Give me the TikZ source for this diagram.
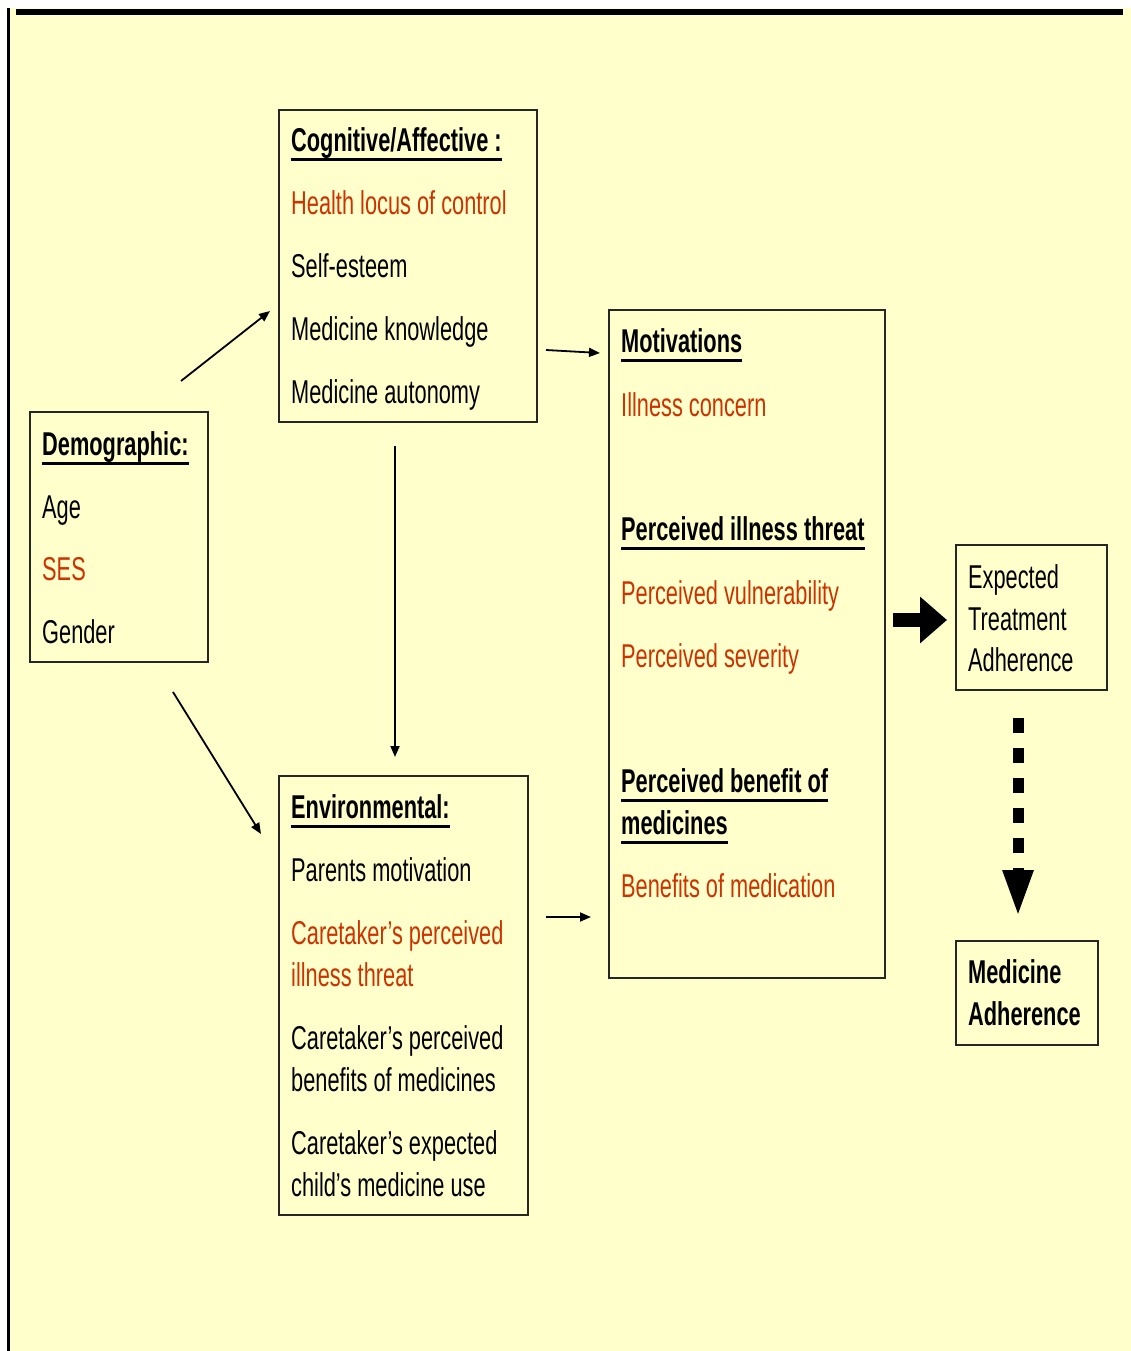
\documentclass[tikz,border=0pt]{standalone}
\usepackage{fontspec}
\setmainfont{Liberation Sans}[FakeStretch=0.66]
\usetikzlibrary{arrows.meta}
\definecolor{bgyel}{RGB}{255,255,204}
\definecolor{redt}{RGB}{204,51,0}
\newcommand\myul[1]{\setbox0=\hbox{#1}\rlap{\rule[-9.5pt]{\wd0}{3.3pt}}\box0}
\begin{document}
\begin{tikzpicture}[x=1pt,y=-1pt,
  box/.style={draw=black!85, line width=1.4pt, anchor=north west, inner sep=0pt, outer sep=0pt},
  txt/.style={anchor=base west, inner sep=0pt, font=\fontsize{33}{38}\selectfont},
  rtxt/.style={txt, text=redt},
  btxt/.style={txt, font=\fontsize{33}{38}\selectfont\bfseries},
  arr/.style={line width=1.8pt, -{Triangle[length=11pt,width=9pt]}},
]
\useasboundingbox (0,0) rectangle (1131,1351);
% background and frame
\fill[bgyel] (8,8) rectangle (1131,1351);
\fill[black] (7,8) rectangle (10.3,1351);
\fill[black] (16,8.6) rectangle (1123,14.6);

% boxes
\node[box, minimum width=178pt, minimum height=250pt] (demo) at (30,412) {};
\node[box, minimum width=258pt, minimum height=312pt] (cog) at (279,110) {};
\node[box, minimum width=249pt, minimum height=439pt] (env) at (279,776) {};
\node[box, minimum width=276pt, minimum height=668pt] (mot) at (609,310) {};
\node[box, minimum width=151pt, minimum height=145pt] (eta) at (956,545) {};
\node[box, minimum width=142pt, minimum height=104pt] (ma) at (956,941) {};

% demographic
\node[btxt] (d1) at (42,455.5) {\myul{Demographic:}};
\node[txt] (d2) at (42,518.5) {Age};
\node[rtxt] (d3) at (42,580.5) {SES};
\node[txt] (d4) at (42,643.5) {Gender};

% cognitive
\node[btxt] (c1) at (291,151.5) {\myul{Cognitive/Affective :}};
\node[rtxt] (c2) at (291,214.5) {Health locus of control};
\node[txt] (c3) at (291,277.5) {Self-esteem};
\node[txt] (c4) at (291,340.5) {Medicine knowledge};
\node[txt] (c5) at (291,403.5) {Medicine autonomy};

% environmental
\node[btxt] (e1) at (291,818.5) {\myul{Environmental:}};
\node[txt] (e2) at (291,881.5) {Parents motivation};
\node[rtxt] (e3a) at (291,944.5) {Caretaker’s perceived};
\node[rtxt] (e3b) at (291,986.5) {illness threat};
\node[txt] (e4a) at (291,1049.5) {Caretaker’s perceived};
\node[txt] (e4b) at (291,1091.5) {benefits of medicines};
\node[txt] (e5a) at (291,1154.5) {Caretaker’s expected};
\node[txt] (e5b) at (291,1196.5) {child’s medicine use};

% motivations
\node[btxt] (m1) at (621,352.5) {\myul{Motivations}};
\node[rtxt] (m2) at (621,416.5) {Illness concern};
\node[btxt] (m3) at (621,540.5) {\myul{Perceived illness threat}};
\node[rtxt] (m4) at (621,604.5) {Perceived vulnerability};
\node[rtxt] (m5) at (621,667.5) {Perceived severity};
\node[btxt] (m6a) at (621,792.5) {\myul{Perceived benefit of}};
\node[btxt] (m6b) at (621,834.5) {\myul{medicines}};
\node[rtxt] (m7) at (621,897.5) {Benefits of medication};

% expected treatment adherence
\node[txt] (t1) at (968,588.5) {Expected};
\node[txt] (t2) at (968,630.5) {Treatment};
\node[txt] (t3) at (968,671.5) {Adherence};

% medicine adherence
\node[btxt] (a1) at (968,983.5) {Medicine};
\node[btxt] (a2) at (968,1025.5) {Adherence};

% connector end points
\coordinate (dc1) at (181,381); \coordinate (dc2) at (270,311);
\coordinate (de1) at (173,692); \coordinate (de2) at (261,834);
\coordinate (ce1) at (395,446); \coordinate (ce2) at (395,757);
\coordinate (cm1) at (546,350); \coordinate (cm2) at (600,353);
\coordinate (em1) at (546,917); \coordinate (em2) at (591,917);
\coordinate (mt1) at (893,620); \coordinate (mt2) at (947,620);
\coordinate (ta1) at (1018,718); \coordinate (ta2) at (1018,917);

\draw[arr] (dc1) -- (dc2);
\draw[arr] (de1) -- (de2);
\draw[arr] (ce1) -- (ce2);
\draw[arr] (cm1) -- (cm2);
\draw[arr] (em1) -- (em2);
\draw[line width=14pt, -{Triangle[length=27pt,width=45pt]}] (mt1) -- (mt2);
\draw[line width=11pt, dash pattern=on 15pt off 15pt, -{Triangle[length=47pt,width=28pt]}] (ta1) -- (ta2);
\end{tikzpicture}
\end{document}
